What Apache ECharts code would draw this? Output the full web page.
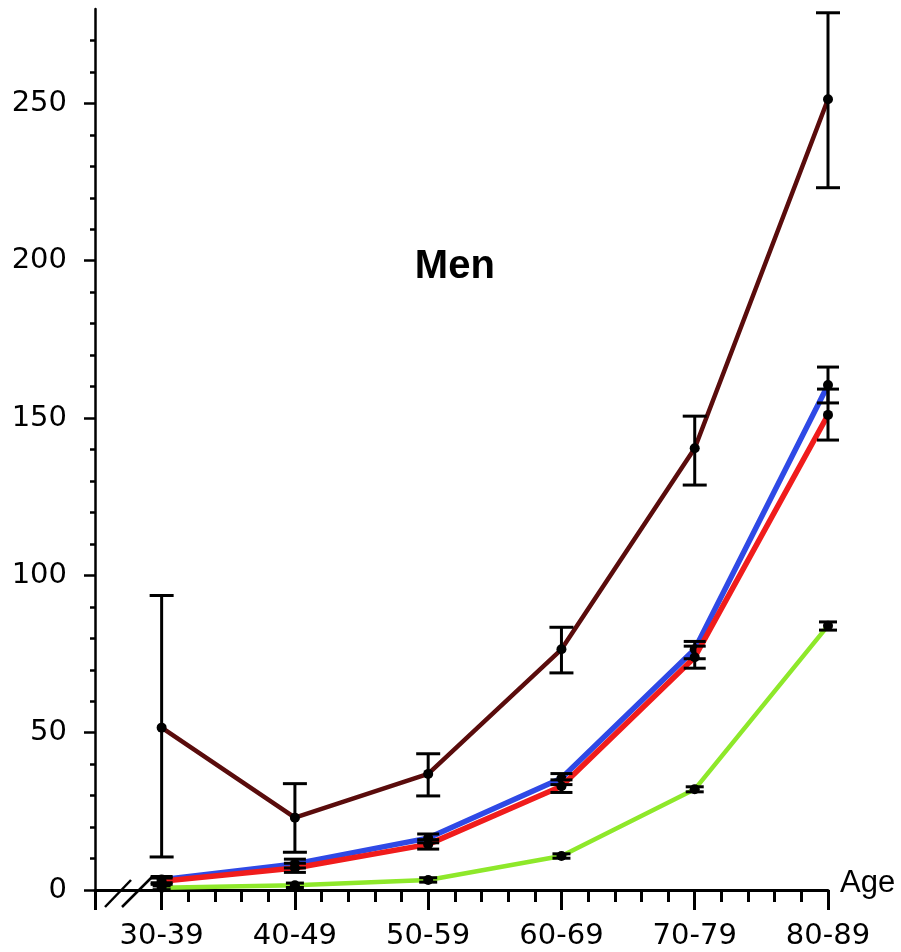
<!DOCTYPE html>
<html><head><meta charset="utf-8">
<script src="https://cdn.jsdelivr.net/npm/echarts@6/dist/echarts.min.js"></script>
<style>html,body{margin:0;padding:0;background:#fff}#c{width:901px;height:952px}</style>
</head><body><div id="c"></div>
<script>
const categories = ['30-39','40-49','50-59','60-69','70-79','80-89'];
const yMajorTicks = [0, 50, 100, 150, 200, 250];

const maroonMean = [51.6, 23.0, 36.9, 76.5, 140.4, 251.3];
const maroonLow  = [10.5, 12.0, 29.9, 69.0, 128.7, 223.2];
const maroonHigh = [93.6, 33.8, 43.3, 83.5, 150.6, 278.8];

const blueMean = [3.3, 8.3, 16.5, 35.5, 76.5, 160.5];
const blueLow  = [2.3, 7.0, 15.0, 33.5, 73.5, 154.8];
const blueHigh = [4.3, 9.8, 17.8, 37.0, 79.0, 166.2];

const redMean = [2.8, 7.0, 14.5, 33.0, 74.0, 151.0];
const redLow  = [1.8, 5.6, 13.0, 31.0, 70.5, 143.0];
const redHigh = [3.8, 8.5, 16.0, 35.0, 77.5, 159.2];

const greenMean = [0.7, 1.5, 3.2, 10.8, 32.0, 84.0];
const greenLow  = [0.1, 0.8, 2.5, 10.1, 31.2, 82.6];
const greenHigh = [1.3, 2.2, 3.9, 11.5, 32.8, 85.2];

const chart = echarts.init(document.getElementById('c'), null, {renderer: 'canvas'});

const catIdx = categories.map((c, i) => i);
const majorX = [-0.5].concat(catIdx);
const minorX = [];
for (let i = 0; i < categories.length - 1; i++) for (let k = 1; k < 5; k++) minorX.push(i + k / 5);

function lineSeries(name, mean, color, width, z) {
  return {
    type: 'line', name: name, z: z, animation: false,
    data: mean.map((v, i) => [i, v]),
    lineStyle: {color: color, width: width},
    itemStyle: {color: '#000'},
    symbol: 'circle', symbolSize: 10, showSymbol: true
  };
}
function errSeries(low, high, capW, z) {
  return {
    type: 'custom', z: z, animation: false,
    data: low.map((l, i) => [i, l, high[i]]),
    encode: {x: 0, y: [1, 2]},
    renderItem: function (params, api) {
      const x = api.value(0);
      const p1 = api.coord([x, api.value(1)]);
      const p2 = api.coord([x, api.value(2)]);
      const h = capW / 2;
      const st = {stroke: '#000', lineWidth: 3};
      return {type: 'group', children: [
        {type: 'line', shape: {x1: p1[0], y1: p1[1], x2: p2[0], y2: p2[1]}, style: st},
        {type: 'line', shape: {x1: p1[0] - h, y1: p1[1], x2: p1[0] + h, y2: p1[1]}, style: st},
        {type: 'line', shape: {x1: p2[0] - h, y1: p2[1], x2: p2[0] + h, y2: p2[1]}, style: st}
      ]};
    }
  };
}

const labelFont = {fontSize: 29, fontFamily: 'DejaVu Sans', color: '#000'};

chart.setOption({
  animation: false,
  backgroundColor: '#fff',
  grid: {left: 95, right: 73, top: 9, bottom: 62},
  xAxis: [
    {
      type: 'value', min: -0.5, max: categories.length - 1, position: 'bottom',
      axisLine: {show: true, lineStyle: {color: '#000', width: 3}},
      axisTick: {show: true, customValues: majorX, length: 20, lineStyle: {color: '#000', width: 3}},
      axisLabel: Object.assign({customValues: catIdx, margin: 32,
        formatter: v => categories[Math.round(v)] || ''}, labelFont),
      splitLine: {show: false},
      name: 'Age', nameLocation: 'end', nameGap: 12,
      nameTextStyle: {fontSize: 31, fontFamily: 'Liberation Sans', color: '#000', verticalAlign: 'bottom', padding: [0, 0, -9, 0]}
    },
    {
      type: 'value', min: -0.5, max: categories.length - 1, position: 'bottom',
      axisLine: {show: false},
      axisTick: {show: true, customValues: minorX, length: 12, lineStyle: {color: '#000', width: 3}},
      axisLabel: {show: false},
      splitLine: {show: false}
    }
  ],
  yAxis: {
    type: 'value', min: 0, max: 280, interval: 50, position: 'left',
    axisLine: {show: true, onZero: false, lineStyle: {color: '#000', width: 2.5}},
    axisTick: {show: true, customValues: yMajorTicks, length: 11, lineStyle: {color: '#000', width: 2.5}},
    minorTick: {show: true, splitNumber: 5, length: 5, lineStyle: {color: '#000', width: 2.5}},
    axisLabel: Object.assign({customValues: yMajorTicks, margin: 28}, labelFont),
    splitLine: {show: false},
    minorSplitLine: {show: false}
  },
  series: [
    lineSeries('Green', greenMean, '#8ee82a', 4.5, 2),
    lineSeries('Blue', blueMean, '#2f49e6', 5.5, 3),
    lineSeries('Red', redMean, '#f01c1c', 5.5, 4),
    lineSeries('Maroon', maroonMean, '#5a0c0c', 4.5, 5),
    errSeries(greenLow, greenHigh, 18, 6),
    errSeries(blueLow, blueHigh, 22, 6),
    errSeries(redLow, redHigh, 22, 6),
    errSeries(maroonLow, maroonHigh, 24, 6)
  ]
});

const o = chart.convertToPixel({xAxisIndex: 0, yAxisIndex: 0}, [-0.5, 0]);
const mid = chart.convertToPixel({xAxisIndex: 0, yAxisIndex: 0}, [2.5, 200]);
chart.setOption({
  graphic: [
    {type: 'text', left: mid[0] - 80, top: mid[1] - 14, z: 10,
     style: {text: 'Men', fontSize: 40, fontWeight: 'bold', fontFamily: 'Liberation Sans', fill: '#000'}},
    {type: 'line', z: 10, shape: {x1: o[0] + 10, y1: o[1] + 17, x2: o[0] + 36, y2: o[1] - 10}, style: {stroke: '#000', lineWidth: 2.5}},
    {type: 'line', z: 10, shape: {x1: o[0] + 27, y1: o[1] + 17, x2: o[0] + 58, y2: o[1] - 14}, style: {stroke: '#000', lineWidth: 2.5}}
  ]
});
</script></body></html>
